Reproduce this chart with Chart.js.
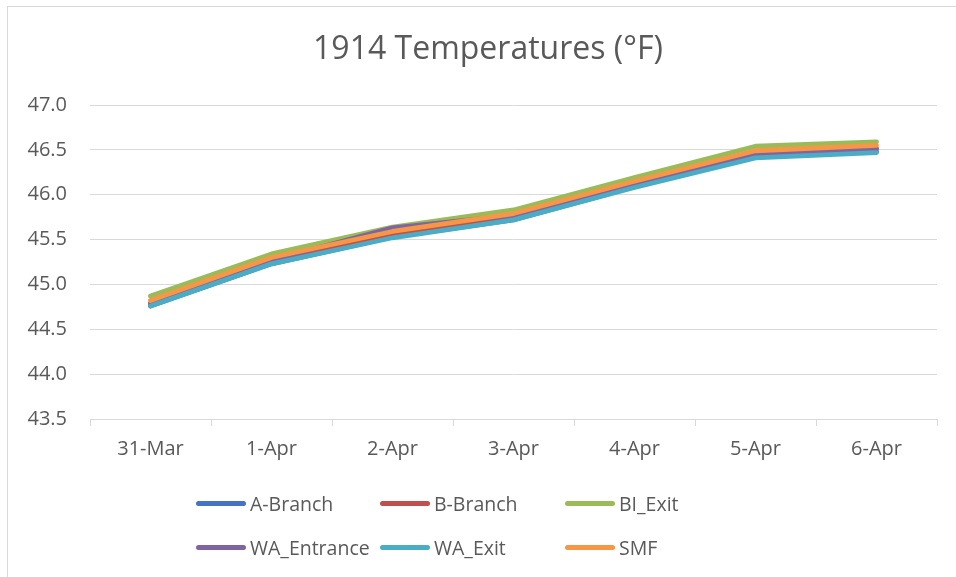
<!DOCTYPE html>
<html>
<head>
<meta charset="utf-8">
<script src="https://cdn.jsdelivr.net/npm/chart.js@4/dist/chart.umd.min.js"></script>
<style>
  html, body { margin: 0; padding: 0; background: #fff; overflow: hidden; }
  #wrap { position: relative; width: 956px; height: 577px; overflow: hidden; }
  #frame { position: absolute; left: 7px; top: 6px; width: 980px; height: 600px; border: 1px solid #d9d9d9; box-sizing: border-box; }
  #cv { position: absolute; left: 0; top: 0; }
  .leg { position: absolute; font-family: "Open Sans", sans-serif; font-size: 19.5px; color: #595959; display: flex; align-items: center; white-space: nowrap; }
  .leg i { display: inline-block; width: 50px; height: 5px; border-radius: 3px; margin-right: 4px; }
</style>
</head>
<body>
<div id="wrap">
  <div id="frame"></div>
  <canvas id="cv" width="956" height="577"></canvas>
  <div id="legend"></div>
</div>
<script>
const categories = ["31-Mar", "1-Apr", "2-Apr", "3-Apr", "4-Apr", "5-Apr", "6-Apr"];
const seriesNames = ["A-Branch", "B-Branch", "BI_Exit", "WA_Entrance", "WA_Exit", "SMF"];
const aBranch    = [44.76, 45.23, 45.53, 45.72, 46.09, 46.42, 46.48];
const bBranch    = [44.78, 45.26, 45.56, 45.75, 46.12, 46.45, 46.51];
const biExit     = [44.87, 45.34, 45.64, 45.83, 46.19, 46.54, 46.59];
const waEntrance = [44.79, 45.27, 45.63, 45.77, 46.12, 46.45, 46.51];
const waExit     = [44.76, 45.23, 45.52, 45.72, 46.08, 46.41, 46.47];
const smf        = [44.82, 45.30, 45.59, 45.79, 46.15, 46.49, 46.55];
const yTicks = [43.5, 44.0, 44.5, 45.0, 45.5, 46.0, 46.5, 47.0];
const titleText = "1914 Temperatures (°F)";

const colors = ["#4472C4", "#C0504D", "#9BBB59", "#8064A2", "#4BACC6", "#F79646"];
const values = [aBranch, bBranch, biExit, waEntrance, waExit, smf];

const datasets = values.map((v, i) => ({
  label: seriesNames[i],
  data: v,
  borderColor: colors[i],
  backgroundColor: colors[i],
  borderWidth: 4.8,
  pointRadius: 0,
  pointHoverRadius: 0,
  tension: 0,
  fill: false,
  borderCapStyle: "round",
  borderJoinStyle: "round",
  order: values.length - i
}));

const FONT = "'Open Sans', sans-serif";
const GREY = "#d9d9d9";
const TXT = "#595959";

const titlePlugin = {
  id: "centredTitle",
  afterDraw(chart) {
    const ctx = chart.ctx;
    ctx.save();
    ctx.font = "32px " + FONT;
    ctx.fillStyle = TXT;
    ctx.textAlign = "center";
    ctx.textBaseline = "middle";
    ctx.fillText(titleText, 488, 50);
    ctx.restore();
  }
};

new Chart(document.getElementById("cv"), {
  type: "line",
  data: { labels: categories, datasets },
  plugins: [titlePlugin],
  options: {
    responsive: false,
    animation: false,
    events: [],
    layout: { padding: { left: 0, right: 19, top: 105, bottom: 0 } },
    plugins: {
      legend: { display: false },
      tooltip: { enabled: false },
      title: { display: false }
    },
    scales: {
      x: {
        offset: true,
        grid: { display: true, offset: true, drawOnChartArea: false, drawTicks: true, tickLength: 7, color: GREY },
        border: { display: true, color: GREY, width: 1 },
        ticks: { color: TXT, font: { family: FONT, size: 20 }, padding: 11, maxRotation: 0 },
        afterFit: (s) => { s.height = 158; }
      },
      y: {
        min: 43.5,
        max: 47.0,
        afterBuildTicks: (s) => { s.ticks = yTicks.map(v => ({ value: v })); },
        grid: { color: GREY, drawTicks: false, lineWidth: 1 },
        border: { display: false },
        ticks: { color: TXT, font: { family: FONT, size: 20 }, padding: 23, callback: (v) => Number(v).toFixed(1) },
        afterFit: (s) => { s.width = 90; }
      }
    }
  }
});

// legend (HTML), grid of 3 columns x 2 rows
const legend = document.getElementById("legend");
const colX = [196, 380, 565];
const rowY = [503, 547];
seriesNames.forEach((name, i) => {
  const d = document.createElement("div");
  d.className = "leg";
  d.style.left = colX[i % 3] + "px";
  d.style.top = (rowY[Math.floor(i / 3)] - 14) + "px";
  d.style.height = "28px";
  const sw = document.createElement("i");
  sw.style.background = colors[i];
  d.appendChild(sw);
  d.appendChild(document.createTextNode(name));
  legend.appendChild(d);
});
</script>
</body>
</html>
